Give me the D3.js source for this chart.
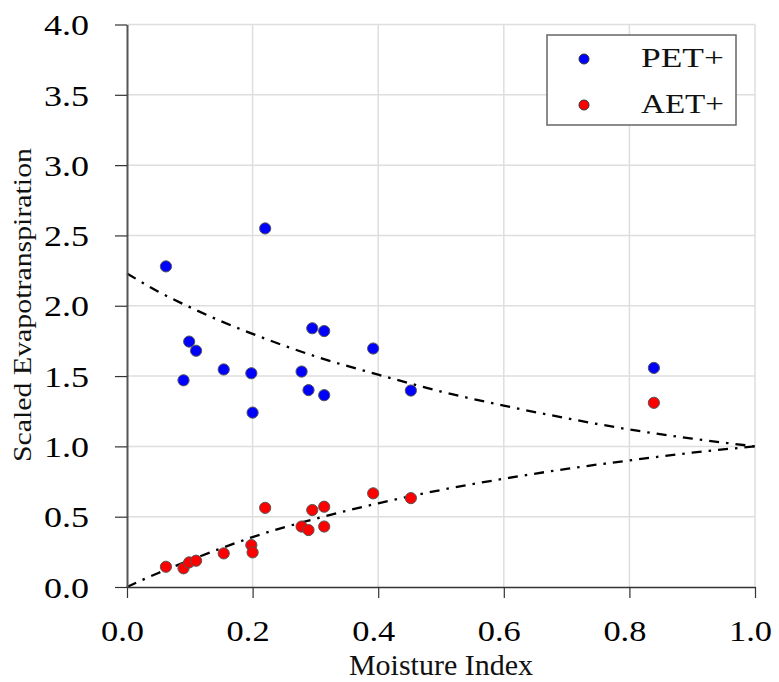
<!DOCTYPE html>
<html>
<head>
<meta charset="utf-8">
<script src="https://cdn.jsdelivr.net/npm/d3@7"></script>
<style>
  body { margin: 0; background: #fff; }
  svg { display: block; }
</style>
</head>
<body>
<script>
// moisture index of each site (shared by both series)
var moisture = [0.062, 0.090, 0.099, 0.110, 0.154, 0.198, 0.200, 0.220, 0.278, 0.289, 0.295, 0.314, 0.314, 0.392, 0.452, 0.839];
var petValues = [2.28, 1.47, 1.745, 1.68, 1.547, 1.52, 1.24, 2.55, 1.532, 1.40, 1.84, 1.82, 1.364, 1.696, 1.397, 1.558];
var aetValues = [0.144, 0.133, 0.175, 0.187, 0.239, 0.298, 0.246, 0.563, 0.43, 0.405, 0.547, 0.571, 0.43, 0.666, 0.632, 1.31];

// dash-dot curves
var curveX = [0, 0.05, 0.1, 0.15, 0.2, 0.3, 0.4, 0.5, 0.6, 0.7, 0.8, 0.9, 1.0];
var upperCurve = [2.23, 2.10, 1.99, 1.89, 1.80, 1.64, 1.51, 1.39, 1.29, 1.20, 1.12, 1.055, 1.0];
var lowerCurve = [0, 0.10, 0.19, 0.275, 0.355, 0.485, 0.595, 0.69, 0.77, 0.84, 0.90, 0.955, 1.0];

var xTicks = [0, 0.2, 0.4, 0.6, 0.8, 1.0];
var yTicks = [0, 0.5, 1.0, 1.5, 2.0, 2.5, 3.0, 3.5, 4.0];
var seriesNames = ["PET+", "AET+"];
var seriesColors = ["#0000ff", "#ff0000"];

var serif = "'Liberation Serif', 'Tinos', 'Times New Roman', 'DejaVu Serif', serif";
var width = 779, height = 682;
var x = d3.scaleLinear().domain([0, 1]).range([127, 755]);
var y = d3.scaleLinear().domain([0, 4]).range([587, 24.5]);

var svg = d3.select("body").append("svg")
    .attr("width", width)
    .attr("height", height)
    .style("font-family", serif);

// grid lines
svg.append("g").selectAll("line")
    .data(xTicks.slice(1))
    .enter().append("line")
    .attr("x1", function(d) { return x(d); })
    .attr("x2", function(d) { return x(d); })
    .attr("y1", y(0)).attr("y2", y(4))
    .attr("stroke", "#dedede").attr("stroke-width", 1.5);
svg.append("g").selectAll("line")
    .data(yTicks.slice(1))
    .enter().append("line")
    .attr("y1", function(d) { return y(d); })
    .attr("y2", function(d) { return y(d); })
    .attr("x1", x(0)).attr("x2", x(1))
    .attr("stroke", "#dedede").attr("stroke-width", 1.5);

// curves
var line = d3.line()
    .x(function(d) { return x(d[0]); })
    .y(function(d) { return y(d[1]); })
    .curve(d3.curveMonotoneX);

[upperCurve, lowerCurve].forEach(function(vals) {
    svg.append("path")
        .datum(curveX.map(function(cx, i) { return [cx, vals[i]]; }))
        .attr("d", line)
        .attr("fill", "none")
        .attr("stroke", "#000")
        .attr("stroke-width", 2.3)
        .attr("stroke-dasharray", "10,7,2.5,7");
});

// axes
var xAxis = svg.append("g")
    .attr("transform", "translate(0," + y(0) + ")")
    .call(d3.axisBottom(x).tickValues(xTicks).tickSize(11).tickSizeOuter(0).tickFormat(d3.format(".1f")));
var yAxis = svg.append("g")
    .attr("transform", "translate(" + x(0) + ",0)")
    .call(d3.axisLeft(y).tickValues(yTicks).tickSize(12).tickSizeOuter(0).tickFormat(d3.format(".1f")));

xAxis.attr("font-family", null).attr("font-size", null);
yAxis.attr("font-family", null).attr("font-size", null);
xAxis.select(".domain").attr("stroke", "#333").attr("stroke-width", 1.5);
yAxis.select(".domain").attr("stroke", "#555").attr("stroke-width", 2);
xAxis.selectAll(".tick line").attr("stroke", "#333").attr("stroke-width", 1.2);
yAxis.selectAll(".tick line").attr("stroke", "#333").attr("stroke-width", 1.2);
xAxis.selectAll(".tick text")
    .style("font-family", serif).style("font-size", "30px")
    .attr("y", 54).attr("dy", 0)
    .attr("x", -5)
    .attr("fill", "#000")
    .attr("textLength", 43)
    .attr("lengthAdjust", "spacingAndGlyphs");
yAxis.selectAll(".tick text")
    .style("font-family", serif).style("font-size", "30px")
    .attr("x", -38).attr("dy", "0.34em")
    .attr("fill", "#000")
    .attr("textLength", 45)
    .attr("lengthAdjust", "spacingAndGlyphs");

// axis titles
svg.append("text")
    .attr("x", 441).attr("y", 675)
    .attr("text-anchor", "middle")
    .style("font-family", serif).style("font-size", "30px")
    .attr("fill", "#111")
    .text("Moisture Index");
svg.append("text")
    .attr("transform", "translate(31,305) rotate(-90)")
    .attr("text-anchor", "middle")
    .style("font-family", serif).style("font-size", "25px")
    .attr("fill", "#111")
    .attr("textLength", 314)
    .attr("lengthAdjust", "spacingAndGlyphs")
    .text("Scaled Evapotranspiration");

// points
[petValues, aetValues].forEach(function(vals, s) {
    svg.append("g").selectAll("circle")
        .data(vals)
        .enter().append("circle")
        .attr("cx", function(d, i) { return x(moisture[i]); })
        .attr("cy", function(d) { return y(d); })
        .attr("r", 5.6)
        .attr("fill", seriesColors[s])
        .attr("stroke", "#555")
        .attr("stroke-width", 1);
});

// legend
var legend = svg.append("g");
legend.append("rect")
    .attr("x", 547).attr("y", 35)
    .attr("width", 189).attr("height", 90)
    .attr("fill", "#fff")
    .attr("stroke", "#666").attr("stroke-width", 1.5);
seriesNames.forEach(function(name, i) {
    legend.append("circle")
        .attr("cx", 584).attr("cy", 59 + i * 46)
        .attr("r", 5)
        .attr("fill", seriesColors[i])
        .attr("stroke", "#333").attr("stroke-width", 1);
    legend.append("text")
        .attr("x", 724).attr("y", 67 + i * 46)
        .attr("text-anchor", "end")
        .style("font-family", serif).style("font-size", "27px")
        .attr("fill", "#111")
        .attr("textLength", 83)
        .attr("lengthAdjust", "spacingAndGlyphs")
        .text(name);
});
</script>
</body>
</html>
